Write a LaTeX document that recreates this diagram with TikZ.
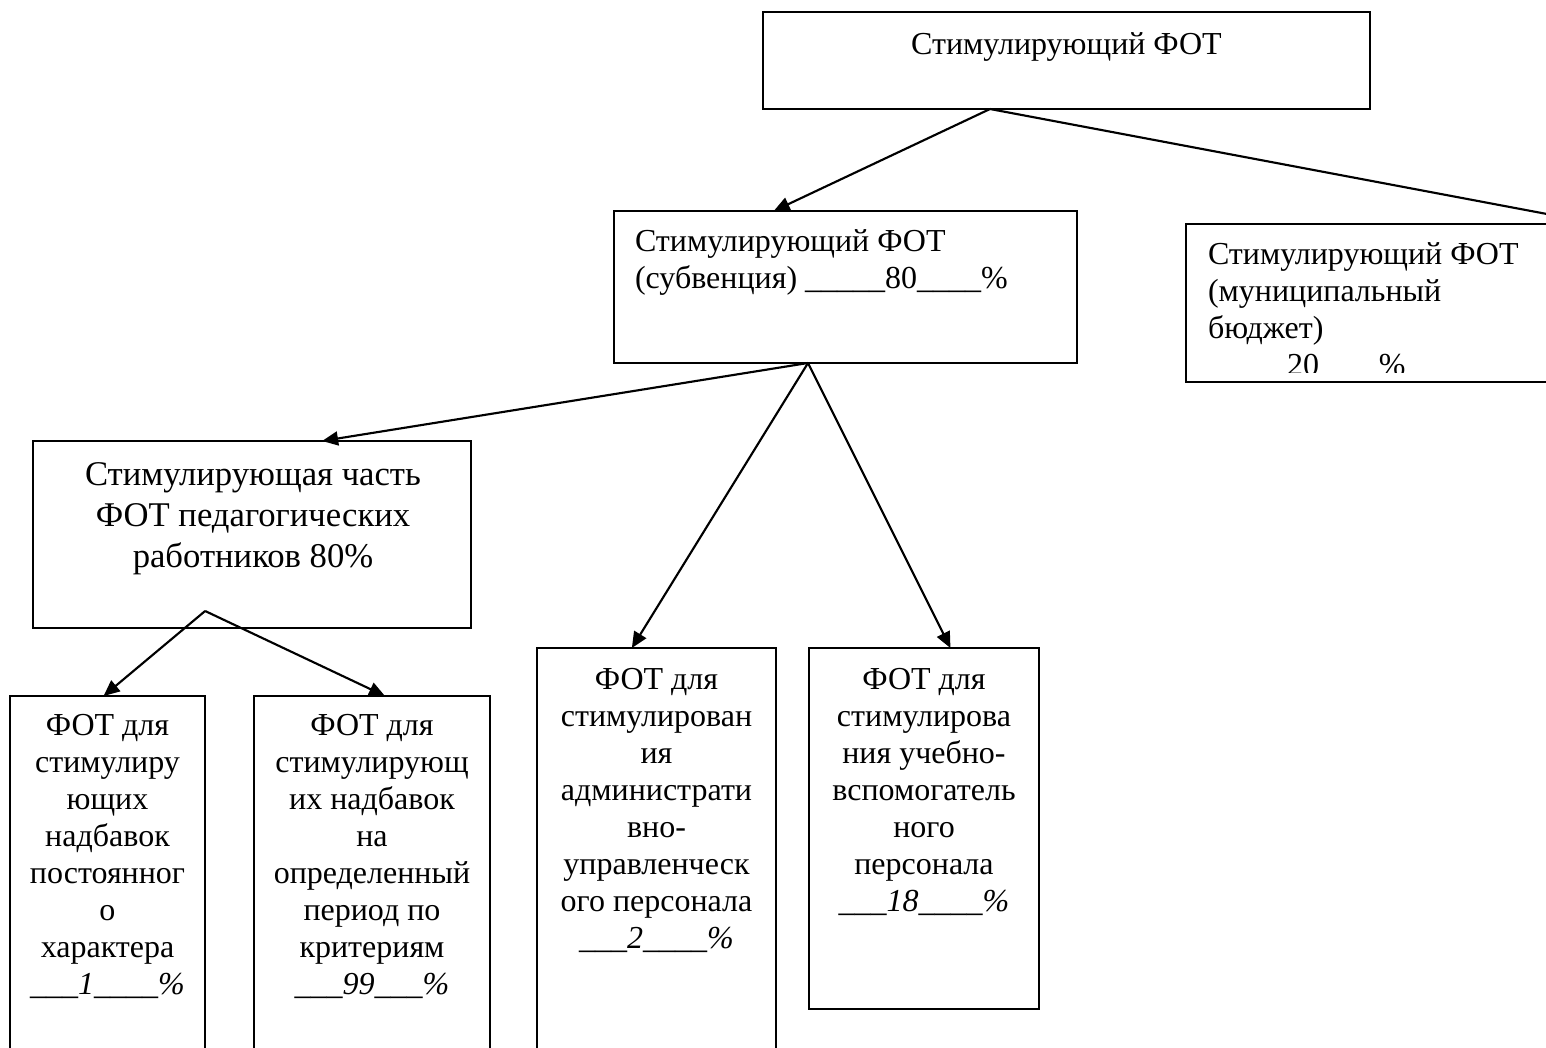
\documentclass[tikz,border=0pt]{standalone}
\usepackage{fontspec}
\setmainfont{Liberation Serif}
\usetikzlibrary{arrows.meta,calc}
\begin{document}
\begin{tikzpicture}[x=0.75pt,y=-0.75pt,
  box/.style={draw, line width=1.5pt, anchor=north west, inner sep=0pt, outer sep=0pt},
  lbl/.style={inner sep=0pt, outer sep=0pt, font=\fontsize{24}{27.75}\selectfont, execute at begin node=\strut},
  arr/.style={line width=1.6pt, -{Triangle[length=12pt,width=10.5pt]}},
]
\clip (0,0) rectangle (1546,1047);
\fill[white] (0,0) rectangle (1546,1047);

% boxes
\node[box, minimum width=455.25pt, minimum height=72.75pt] (top) at (763,12) {};
\node[box, minimum width=347.25pt, minimum height=114pt] (subv) at (614,211) {};
\node[box, minimum width=345pt, minimum height=118.5pt] (muni) at (1186,224) {};
\node[box, minimum width=328.5pt, minimum height=140.25pt] (ped) at (33,441) {};
\node[box, minimum width=146.25pt, minimum height=300pt] (b1) at (10,696) {};
\node[box, minimum width=177pt, minimum height=300pt] (b2) at (254,696) {};
\node[box, minimum width=179.25pt, minimum height=337.5pt] (c1) at (537,648) {};
\node[box, minimum width=172.5pt, minimum height=270.75pt] (c2) at (809,648) {};

% texts
\node[lbl, anchor=north] (topt) at (1066.5,29) {Стимулирующий ФОТ};
\node[lbl, anchor=north west, align=left] (subvt) at (635,230)
  {Стимулирующий ФОТ\\(субвенция) \_\_\_\_\_80\_\_\_\_\%};
\begin{scope}
  \clip (1186,224) rectangle (1546,372);
  \node[lbl, anchor=north west, align=left] (munit) at (1208,243)
    {Стимулирующий ФОТ\\(муниципальный\\бюджет)\\\hspace*{59.25pt}20\hspace*{45pt}\%};
\end{scope}
\node[lbl, font=\fontsize{26}{30.75}\selectfont, anchor=north, align=center] (pedt) at (253,463)
  {Стимулирующая часть\\ФОТ педагогических\\работников 80\%};
\node[lbl, anchor=north, align=center] (b1t) at (107.5,714)
  {ФОТ для\\стимулиру\\ющих\\надбавок\\постоянног\\о\\характера\\\textit{\_\_\_1\_\_\_\_\%}};
\node[lbl, anchor=north, align=center] (b2t) at (372,714)
  {ФОТ для\\стимулирующ\\их надбавок\\на\\определенный\\период по\\критериям\\\textit{\_\_\_99\_\_\_\%}};
\node[lbl, anchor=north, align=center] (c1t) at (656.5,668)
  {ФОТ для\\стимулирован\\ия\\администрати\\вно-\\управленческ\\ого персонала\\\textit{\_\_\_2\_\_\_\_\%}};
\node[lbl, anchor=north, align=center] (c2t) at (924,668)
  {ФОТ для\\стимулирова\\ния учебно-\\вспомогатель\\ного\\персонала\\\textit{\_\_\_18\_\_\_\_\%}};

% connector end points on the boxes
\coordinate (o1) at ($(top.south west)!0.374!(top.south east)$);
\coordinate (t1) at ($(subv.north west)!0.345!(subv.north east)$);
\coordinate (t2) at ($(muni.north west)!0.9!(muni.north east)$);
\coordinate (o2) at ($(subv.south west)!0.419!(subv.south east)$);
\coordinate (t3) at ($(ped.north west)!0.66!(ped.north east)$);
\coordinate (t4) at ($(c1.north west)!0.397!(c1.north east)$);
\coordinate (t5) at ($(c2.north west)!0.615!(c2.north east)$);
\coordinate (o3) at ($(ped.south west)!0.393!(ped.south east)+(0,-17)$);
\coordinate (t6) at ($(b1.north west)!0.48!(b1.north east)$);
\coordinate (t7) at ($(b2.north west)!0.555!(b2.north east)$);

\draw[arr] (o1) -- (t1);
\draw[arr] (o1) -- (t2);
\draw[arr] (o2) -- (t3);
\draw[arr] (o2) -- (t4);
\draw[arr] (o2) -- (t5);
\draw[arr] (o3) -- (t6);
\draw[arr] (o3) -- (t7);
\end{tikzpicture}
\end{document}
